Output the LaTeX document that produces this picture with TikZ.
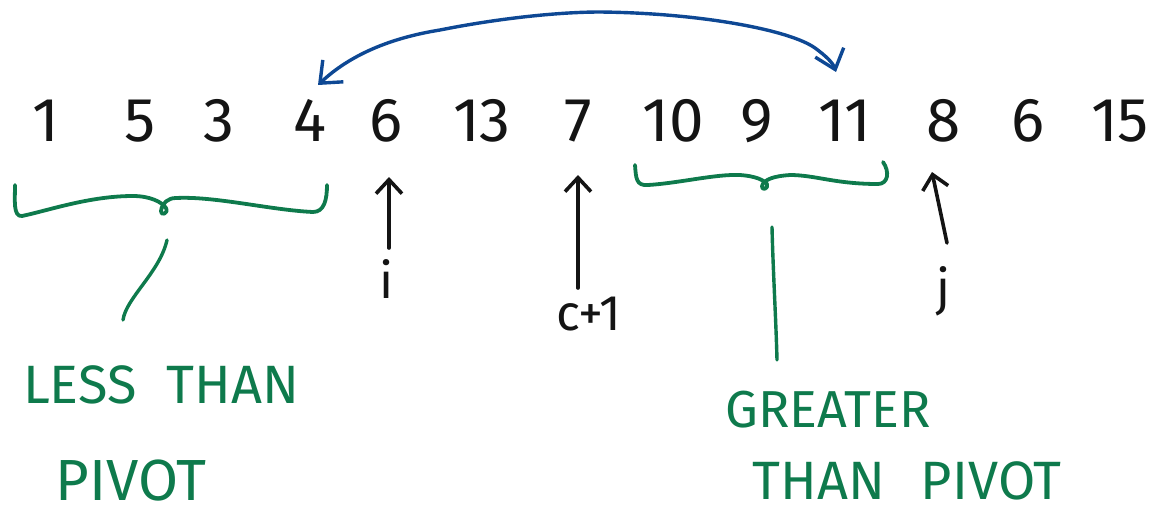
\documentclass[tikz,border=0pt]{standalone}
\usepackage{fontspec}
\setmainfont{Fira Sans}[Numbers=Proportional]
\usetikzlibrary{arrows.meta}
\definecolor{inkgreen}{RGB}{14,122,76}
\definecolor{inkblue}{RGB}{14,72,148}
\definecolor{ink}{RGB}{20,20,20}
\tikzset{
  num/.style={anchor=base, inner sep=0pt, text=ink, font=\fontsize{62}{62}\selectfont},
  lbl/.style={anchor=base, inner sep=0pt, text=ink, font=\fontsize{50}{50}\selectfont},
  note/.style={anchor=base, inner sep=0pt, text=inkgreen, font=\fontsize{54}{54}\selectfont},
  brace/.style={draw=inkgreen, line width=3.8pt, line cap=round, line join=round},
  lead/.style={draw=inkgreen, line width=3.4pt, line cap=round},
  ptr/.style={draw=ink, line width=3.6pt, line cap=round,
    -{Straight Barb[length=14pt,width=26pt]}},
  swaparrow/.style={draw=inkblue, line width=3.4pt, line cap=round,
    {Straight Barb[length=18pt,width=30pt]}-{Straight Barb[length=18pt,width=30pt]}}
}
\begin{document}
\begin{tikzpicture}[x=1pt,y=-1pt]
\useasboundingbox (0,0) rectangle (1157,515);
% numbers
\node[num] (n1)  at (46,141)   {1};
\node[num] (n2)  at (140,141)  {5};
\node[num] (n3)  at (219,141)  {3};
\node[num] (n4)  at (310,141)  {4};
\node[num] (n5)  at (386,141)  {6};
\node[num] (n6)  at (482,141)  {13};
\node[num] (n7)  at (578,141)  {7};
\node[num] (n8)  at (673,141)  {10};
\node[num] (n9)  at (757,141)  {9};
\node[num] (n10) at (845,141)  {11};
\node[num] (n11) at (944,141)  {8};
\node[num] (n12) at (1028,141) {6};
\node[num] (n13) at (1120,141) {15};
% pointer labels
\node[lbl] (li) at (387,298) {i};
\node[lbl] (lc) at (589,330) {c+1};
\node[lbl] (lj) at (943,305) {j};
% green notes
\node[note] (less) at (161,403) {LESS\hspace{30pt}THAN};
\node[note, font=\fontsize{58}{58}\selectfont] (lpiv) at (131,500) {PIVOT};
\node[note, font=\fontsize{52}{52}\selectfont] (gr) at (828,427) {GREATER};
\node[note] (gpiv) at (907,499) {THAN\hspace{36pt}PIVOT};
% swap arrow
\coordinate (sa) at (318,85);
\coordinate (sb) at (836,72);
\draw[swaparrow] (sa) .. controls (350,55) and (390,38) .. (440,30)
   .. controls (500,18) and (560,12) .. (600,12)
   .. controls (700,13) and (790,30) .. (815,48)
   .. controls (826,56) and (833,63) .. (sb);
% pointer arrows
\coordinate (ia) at (389,248); \coordinate (ib) at (389,177);
\coordinate (ca) at (578,288); \coordinate (cb) at (578,175);
\coordinate (ja) at (947,243); \coordinate (jb) at (932,172);
\draw[ptr] (ia) -- (ib);
\draw[ptr] (ca) -- (cb);
\draw[ptr] (ja) -- (jb);
% left brace
\coordinate (lbm) at (164,212);
\draw[brace] (15,185) .. controls (15,200) and (13,217) .. (22,216)
  .. controls (50,210) and (90,196) .. (133,196)
  .. controls (150,196) and (162,202) .. (166,208)
  .. controls (169,214) and (160,216) .. (161,211)
  .. controls (162,203) and (168,198) .. (176,198)
  .. controls (215,196) and (270,210) .. (313,212)
  .. controls (324,212) and (327,200) .. (327,185);
% right brace
\coordinate (rbm) at (765,188);
\draw[brace] (635,165) .. controls (636,178) and (636,186) .. (648,185)
  .. controls (680,183) and (715,174) .. (740,175)
  .. controls (755,176) and (764,180) .. (767,184)
  .. controls (769,189) and (761,191) .. (762,186)
  .. controls (764,179) and (775,176) .. (790,175)
  .. controls (815,175) and (835,184) .. (878,184)
  .. controls (888,184) and (890,172) .. (883,162);
% leaders
\coordinate (l1) at (167,240); \coordinate (l2) at (123,320);
\coordinate (r1) at (772,227); \coordinate (r2) at (777,360);
\draw[lead] (l1) .. controls (160,272) and (126,298) .. (l2);
\draw[lead] (r1) .. controls (773,270) and (776,320) .. (r2);
\end{tikzpicture}
\end{document}
